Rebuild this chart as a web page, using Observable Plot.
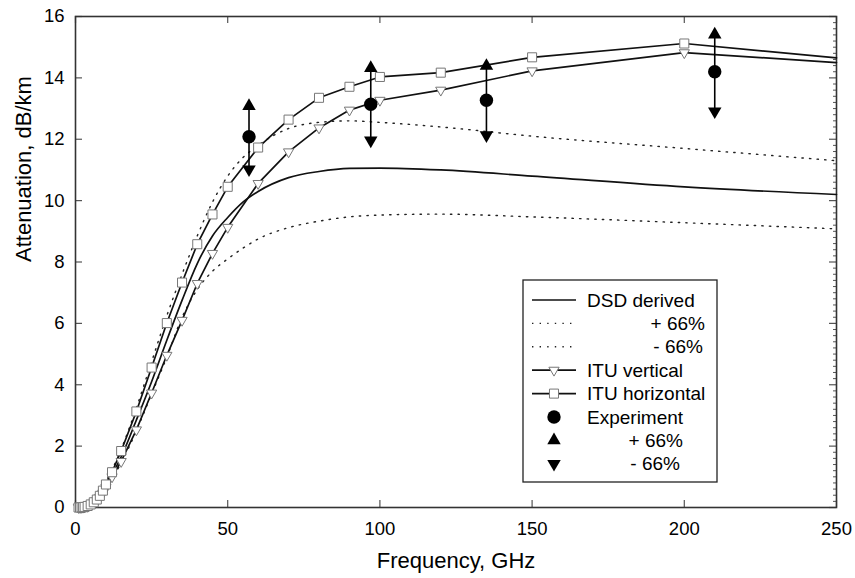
<!DOCTYPE html>
<html>
<head>
<meta charset="utf-8">
<script src="https://cdn.jsdelivr.net/npm/d3@7"></script>
<script src="https://cdn.jsdelivr.net/npm/@observablehq/plot@0.6"></script>
<style>
  html, body { margin: 0; padding: 0; background: #fff; }
  #chart { width: 855px; height: 578px; }
</style>
</head>
<body>
<div id="chart"></div>
<script>
// ---- data ----
const xTicks = [0, 50, 100, 150, 200, 250];
const yTicks = [0, 2, 4, 6, 8, 10, 12, 14, 16];

// ITU-R P.838 frequencies (GHz); line continues to the plot edge at 250
const ituFreq = [1, 1.5, 2, 2.5, 3, 4, 5, 6, 7, 8, 9, 10, 12, 15, 20, 25, 30, 35, 40, 45, 50, 60, 70, 80, 90, 100, 120, 150, 200, 250];
const ituHorizontal = [0.0, 0.0, 0.01, 0.01, 0.02, 0.05, 0.1, 0.17, 0.26, 0.38, 0.55, 0.75, 1.15, 1.84, 3.13, 4.56, 6.01, 7.33, 8.58, 9.55, 10.45, 11.73, 12.64, 13.35, 13.71, 14.03, 14.17, 14.67, 15.12, 14.65];
const ituVertical   = [0.0, 0.0, 0.005, 0.01, 0.015, 0.04, 0.08, 0.14, 0.22, 0.33, 0.47, 0.65, 1.0, 1.5, 2.53, 3.73, 4.96, 6.1, 7.3, 8.28, 9.13, 10.56, 11.59, 12.37, 12.95, 13.27, 13.6, 14.23, 14.82, 14.5];
const ituMarkerMaxFreq = 200;

const dsdFreq    = [0, 5, 10, 15, 20, 25, 30, 35, 40, 45, 50, 55, 60, 70, 80, 90, 100, 120, 150, 200, 250];
const dsdDerived = [0, 0.15, 0.75, 1.65, 2.85, 4.1, 5.45, 6.75, 7.95, 8.85, 9.45, 9.95, 10.3, 10.75, 10.95, 11.05, 11.06, 11.0, 10.8, 10.45, 10.2];
const dsdPlus66  = [0, 0.2, 0.85, 1.9, 3.25, 4.75, 6.25, 7.6, 8.85, 9.95, 10.8, 11.4, 11.8, 12.35, 12.55, 12.6, 12.55, 12.4, 12.1, 11.7, 11.3];
const dsdMinus66 = [0, 0.12, 0.65, 1.45, 2.5, 3.7, 4.9, 6.2, 7.1, 7.7, 8.1, 8.45, 8.75, 9.12, 9.33, 9.47, 9.53, 9.56, 9.47, 9.28, 9.08];

const expFreq    = [57, 97, 135, 210];
const expValue   = [12.08, 13.14, 13.27, 14.2];
const expPlus66  = [13.08, 14.32, 14.39, 15.41];
const expMinus66 = [11.02, 11.96, 12.13, 12.91];

const legendItems = ["DSD derived", "+ 66%", "- 66%", "ITU vertical", "ITU horizontal", "Experiment", "+ 66%", "- 66%"];

// ---- tables built from the arrays ----
const itu = ituFreq.map((f, i) => ({f, h: ituHorizontal[i], v: ituVertical[i]}));
const ituMarkers = itu.filter(d => d.f <= ituMarkerMaxFreq);
const dsd = dsdFreq.map((f, i) => ({f, mid: dsdDerived[i], hi: dsdPlus66[i], lo: dsdMinus66[i]}));
const exp = expFreq.map((f, i) => ({f, v: expValue[i], hi: expPlus66[i], lo: expMinus66[i]}));
const minorY = d3.range(0, 16.001, 0.2).filter(v => Math.abs(v / 2 - Math.round(v / 2)) > 1e-6);

const W = 855, H = 578, mL = 75, mR = 19, mT = 16, mB = 71;
const innerW = W - mL - mR, innerH = H - mT - mB;
const FONT = "'Liberation Sans', Arial, Helvetica, sans-serif";
const dotted = {stroke: "#222", strokeWidth: 1.4, strokeDasharray: "1.4,6.2", curve: "monotone-x"};

const chart = Plot.plot({
  width: W, height: H,
  marginLeft: mL, marginRight: mR, marginTop: mT, marginBottom: mB,
  style: {fontFamily: FONT, fontSize: "18.5px", color: "#000", background: "#fff"},
  x: {domain: [0, 250], ticks: xTicks, tickSize: 0, tickPadding: 14, label: null},
  y: {domain: [0, 16], ticks: yTicks, tickSize: 0, tickPadding: 11, label: null},
  marks: [
    // inward ticks
    Plot.ruleX(xTicks, {x: d => d, insetTop: innerH - 7, stroke: "#555", strokeWidth: 1.2}),
    Plot.ruleX(xTicks, {x: d => d, insetBottom: innerH - 7, stroke: "#555", strokeWidth: 1.2}),
    Plot.ruleY(yTicks, {y: d => d, insetRight: innerW - 7, stroke: "#555", strokeWidth: 1.2}),
    Plot.ruleY(yTicks, {y: d => d, insetLeft: innerW - 7, stroke: "#555", strokeWidth: 1.2}),
    Plot.ruleY(minorY, {y: d => d, insetLeft: innerW - 3, stroke: "#555", strokeWidth: 1}),
    Plot.frame({stroke: "#333", strokeWidth: 1.6}),
    // DSD curves
    Plot.line(dsd, {x: "f", y: "hi", ...dotted}),
    Plot.line(dsd, {x: "f", y: "lo", ...dotted}),
    Plot.line(dsd, {x: "f", y: "mid", stroke: "#111", strokeWidth: 1.7, curve: "monotone-x"}),
    // ITU
    Plot.line(itu, {x: "f", y: "v", stroke: "#111", strokeWidth: 1.7}),
    Plot.line(itu, {x: "f", y: "h", stroke: "#111", strokeWidth: 1.7}),
    Plot.dot(ituMarkers, {x: "f", y: "v", symbol: "triangle", rotate: 180, r: 3.8, fill: "#fff", stroke: "#777", strokeWidth: 1}),
    Plot.dot(ituMarkers, {x: "f", y: "h", symbol: "square", r: 5.1, fill: "#fff", stroke: "#777", strokeWidth: 1}),
    // experiment
    Plot.ruleX(exp, {x: "f", y1: "lo", y2: "hi", stroke: "#000", strokeWidth: 1.6}),
    Plot.dot(exp, {x: "f", y: "hi", symbol: "triangle", r: 5, fill: "#000", stroke: "none"}),
    Plot.dot(exp, {x: "f", y: "lo", symbol: "triangle", rotate: 180, r: 5, fill: "#000", stroke: "none"}),
    Plot.dot(exp, {x: "f", y: "v", r: 6.7, fill: "#000", stroke: "none"}),
    // axis titles
    Plot.text(["Frequency, GHz"], {frameAnchor: "bottom", dy: 53, fontSize: 22, lineAnchor: "middle", fill: "#000"}),
    Plot.text(["Attenuation, dB/km"], {frameAnchor: "left", dx: -52, rotate: -90, fontSize: 22, lineAnchor: "middle", fill: "#000"})
  ]
});
document.getElementById("chart").appendChild(chart);

// ---- legend box drawn inside the same SVG ----
const svg = d3.select(chart);
const lg = svg.append("g").attr("font-family", FONT).attr("font-size", 19).attr("text-anchor", "start");
lg.append("rect").attr("x", 523).attr("y", 280).attr("width", 194).attr("height", 202)
  .attr("fill", "#fff").attr("stroke", "#222").attr("stroke-width", 1.3);
const rowY = i => 300 + i * 23.4;
const sx1 = 532, sx2 = 576, sc = 554;
legendItems.forEach((label, i) => {
  const y = rowY(i);
  const g = lg.append("g");
  if (i === 0 || i === 3 || i === 4) {
    g.append("line").attr("x1", sx1).attr("x2", sx2).attr("y1", y).attr("y2", y)
      .attr("stroke", "#111").attr("stroke-width", 1.7);
  }
  if (i === 1 || i === 2) {
    g.append("line").attr("x1", sx1).attr("x2", sx2).attr("y1", y).attr("y2", y)
      .attr("stroke", "#222").attr("stroke-width", 1.4).attr("stroke-dasharray", "1.4,6.2");
  }
  if (i === 3) {
    g.append("path").attr("d", d3.symbol(d3.symbolTriangle, Math.PI * 3.8 * 3.8)())
      .attr("transform", `translate(${sc},${y}) rotate(180)`).attr("fill", "#fff").attr("stroke", "#777");
  }
  if (i === 4) {
    g.append("path").attr("d", d3.symbol(d3.symbolSquare, Math.PI * 5.1 * 5.1)())
      .attr("transform", `translate(${sc},${y})`).attr("fill", "#fff").attr("stroke", "#777");
  }
  if (i === 5) g.append("circle").attr("cx", sc).attr("cy", y).attr("r", 6.7).attr("fill", "#000");
  if (i === 6 || i === 7) {
    g.append("path").attr("d", d3.symbol(d3.symbolTriangle, Math.PI * 25)())
      .attr("transform", `translate(${sc},${y}) rotate(${i === 7 ? 180 : 0})`).attr("fill", "#000");
  }
  const anchorEnd = {1: 705, 2: 703, 6: 683, 7: 680};
  const t = g.append("text").attr("y", y).attr("dy", "0.35em").attr("fill", "#000").text(label);
  if (anchorEnd[i] !== undefined) t.attr("x", anchorEnd[i]).attr("text-anchor", "end");
  else t.attr("x", 587).attr("text-anchor", "start");
});
</script>
</body>
</html>
